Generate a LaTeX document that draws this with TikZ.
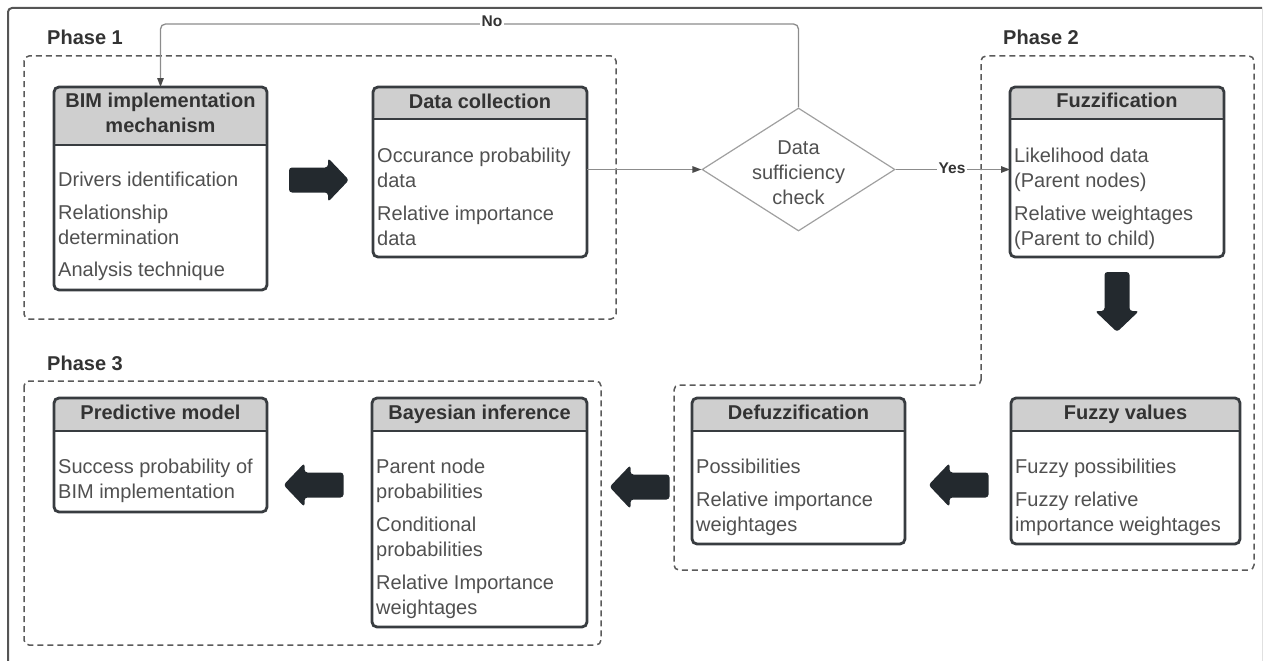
\documentclass[tikz,border=0pt]{standalone}
\usepackage{fontspec}
\setmainfont{Liberation Sans}
\usetikzlibrary{shapes.geometric,arrows.meta}

\definecolor{boxline}{HTML}{383C40}
\definecolor{hdrfill}{HTML}{CFCFCF}
\definecolor{hdrtext}{HTML}{333333}
\definecolor{bodytext}{HTML}{505050}
\definecolor{dashline}{HTML}{5A5A5A}
\definecolor{connline}{HTML}{8C8C8C}
\definecolor{tipgray}{HTML}{4A4A4A}
\definecolor{diagray}{HTML}{A0A0A0}
\definecolor{blockfill}{HTML}{23292E}
\definecolor{framegray}{HTML}{555555}

% block arrow: centre x, centre y, direction angle
\newcommand{\blockarrow}[3]{%
  \fill[blockfill, rounded corners=3, shift={(#1,#2)}, rotate=#3]
    (-30,-12.5) -- (9,-12.5) -- (9,-22) -- (30,0) -- (9,22) -- (9,12.5) -- (-30,12.5) -- cycle;}

\tikzset{
  procbox/.style={draw=boxline, line width=2.8, rounded corners=5, fill=white,
    anchor=north west, inner sep=0, outer sep=0,
    path picture={
      \fill[hdrfill] (path picture bounding box.north west) rectangle
        ([yshift=-#1pt]path picture bounding box.north east);
      \draw[boxline, line width=2.8]
        ([yshift=-#1pt]path picture bounding box.north west) --
        ([yshift=-#1pt]path picture bounding box.north east);}},
  hdr/.style={font=\bfseries\fontsize{20}{25}\selectfont, text=hdrtext,
    align=center, inner sep=0, anchor=north},
  body/.style={font=\fontsize{20}{25}\selectfont, text=bodytext,
    align=left, inner sep=0, anchor=north west},
  phase/.style={font=\bfseries\fontsize{20}{24}\selectfont, text=hdrtext,
    anchor=base west, inner sep=0},
  phasezone/.style={draw=dashline, line width=1.5, dash pattern=on 6pt off 4pt,
    rounded corners=5},
  conn/.style={draw=connline, line width=1.3,
    -{Triangle[length=9pt,width=6.5pt,color=tipgray]}},
  edgelabel/.style={font=\bfseries\fontsize{15.5}{18}\selectfont, text=hdrtext,
    fill=white, inner xsep=1.5pt, inner ysep=1pt, anchor=base},
}

\newcommand{\strutline}{\rule{0pt}{15pt}}

\begin{document}
\begin{tikzpicture}[x=1pt,y=-1pt]
\useasboundingbox (0,0) rectangle (1266,661);

% outer frame
\draw[framegray, line width=2, rounded corners=4] (8,661) -- (8,8) -- (1262,8);
\draw[black!12, line width=1] (1262,8) -- (1262,661);

% phase zones
\draw[phasezone] (24,56) rectangle (616,319);
\draw[phasezone] (981,385) -- (981,56) -- (1254,56) -- (1254,570) -- (674,570) -- (674,385) -- cycle;
\draw[phasezone] (24,381) rectangle (601,645);

\node[phase] (p1) at (47,45) {Phase 1};
\node[phase] (p2) at (1003,45) {Phase 2};
\node[phase] (p3) at (47,370) {Phase 3};

% process boxes
\node[procbox=58, minimum width=213, minimum height=203] (bim) at (54,87) {};
\node[procbox=32, minimum width=214, minimum height=170] (datacol) at (373,87) {};
\node[procbox=32, minimum width=214, minimum height=170] (fuzz) at (1010,87) {};
\node[procbox=33, minimum width=229, minimum height=146] (fuzzyval) at (1011,398) {};
\node[procbox=33, minimum width=213, minimum height=146] (defuzz) at (692,398) {};
\node[procbox=33, minimum width=215, minimum height=229] (bayes) at (372,398) {};
\node[procbox=33, minimum width=213, minimum height=114] (predict) at (54,398) {};

% headers
\node[hdr] (bim-h) at (160.5,92.3) {\strutline BIM implementation\\mechanism};
\node[hdr] (datacol-h) at (480,93) {\strutline Data collection};
\node[hdr] (fuzz-h) at (1117,92.3) {\strutline Fuzzification};
\node[hdr] (fuzzyval-h) at (1125.5,404.5) {\strutline Fuzzy values};
\node[hdr] (defuzz-h) at (798.5,404.5) {\strutline Defuzzification};
\node[hdr] (bayes-h) at (479.5,404.5) {\strutline Bayesian inference};
\node[hdr] (predict-h) at (160.5,404.5) {\strutline Predictive model};

% body texts
\node[body] (bim-b) at (58,171.7) {\strutline Drivers identification\\[8pt]
  Relationship\\determination\\[7pt]Analysis technique};
\node[body] (datacol-b) at (377,147) {\strutline Occurance probability\\data\\[8pt]
  Relative importance\\data};
\node[body] (fuzz-b) at (1014,147) {\strutline Likelihood data\\(Parent nodes)\\[8pt]
  Relative weightages\\(Parent to child)};
\node[body] (fuzzyval-b) at (1015,458) {\strutline Fuzzy possibilities\\[8pt]
  Fuzzy relative\\importance weightages};
\node[body] (defuzz-b) at (696,458) {\strutline Possibilities\\[8pt]
  Relative importance\\weightages};
\node[body] (bayes-b) at (376,458) {\strutline Parent node\\probabilities\\[8pt]
  Conditional\\probabilities\\[8pt]Relative Importance\\weightages};
\node[body] (predict-b) at (58,458) {\strutline Success probability of\\BIM implementation};

% decision
\node[diamond, draw=diagray, line width=1.2, fill=white, minimum width=193,
  minimum height=123, inner sep=0] (dia) at (798.5,169.5) {};
\node[body, anchor=north, align=center] (dia-t) at (798.5,139)
  {\strutline Data\\sufficiency\\check};

% connectors
\draw[conn] (datacol.east |- dia.west) -- (dia.west);
\draw[conn] (dia.east) -- (dia.east -| fuzz.west);
\draw[conn, rounded corners=5] (dia.north) |- ([yshift=63pt]bim.north) -- (bim.north);
\node[edgelabel] (yes) at (952,173.5) {Yes};
\node[edgelabel] (no) at (492,27) {No};

% block arrows
\blockarrow{319}{180}{0}
\blockarrow{1117}{302}{-90}
\blockarrow{958.5}{485}{180}
\blockarrow{639.5}{487}{180}
\blockarrow{313.5}{485}{180}

\end{tikzpicture}
\end{document}
